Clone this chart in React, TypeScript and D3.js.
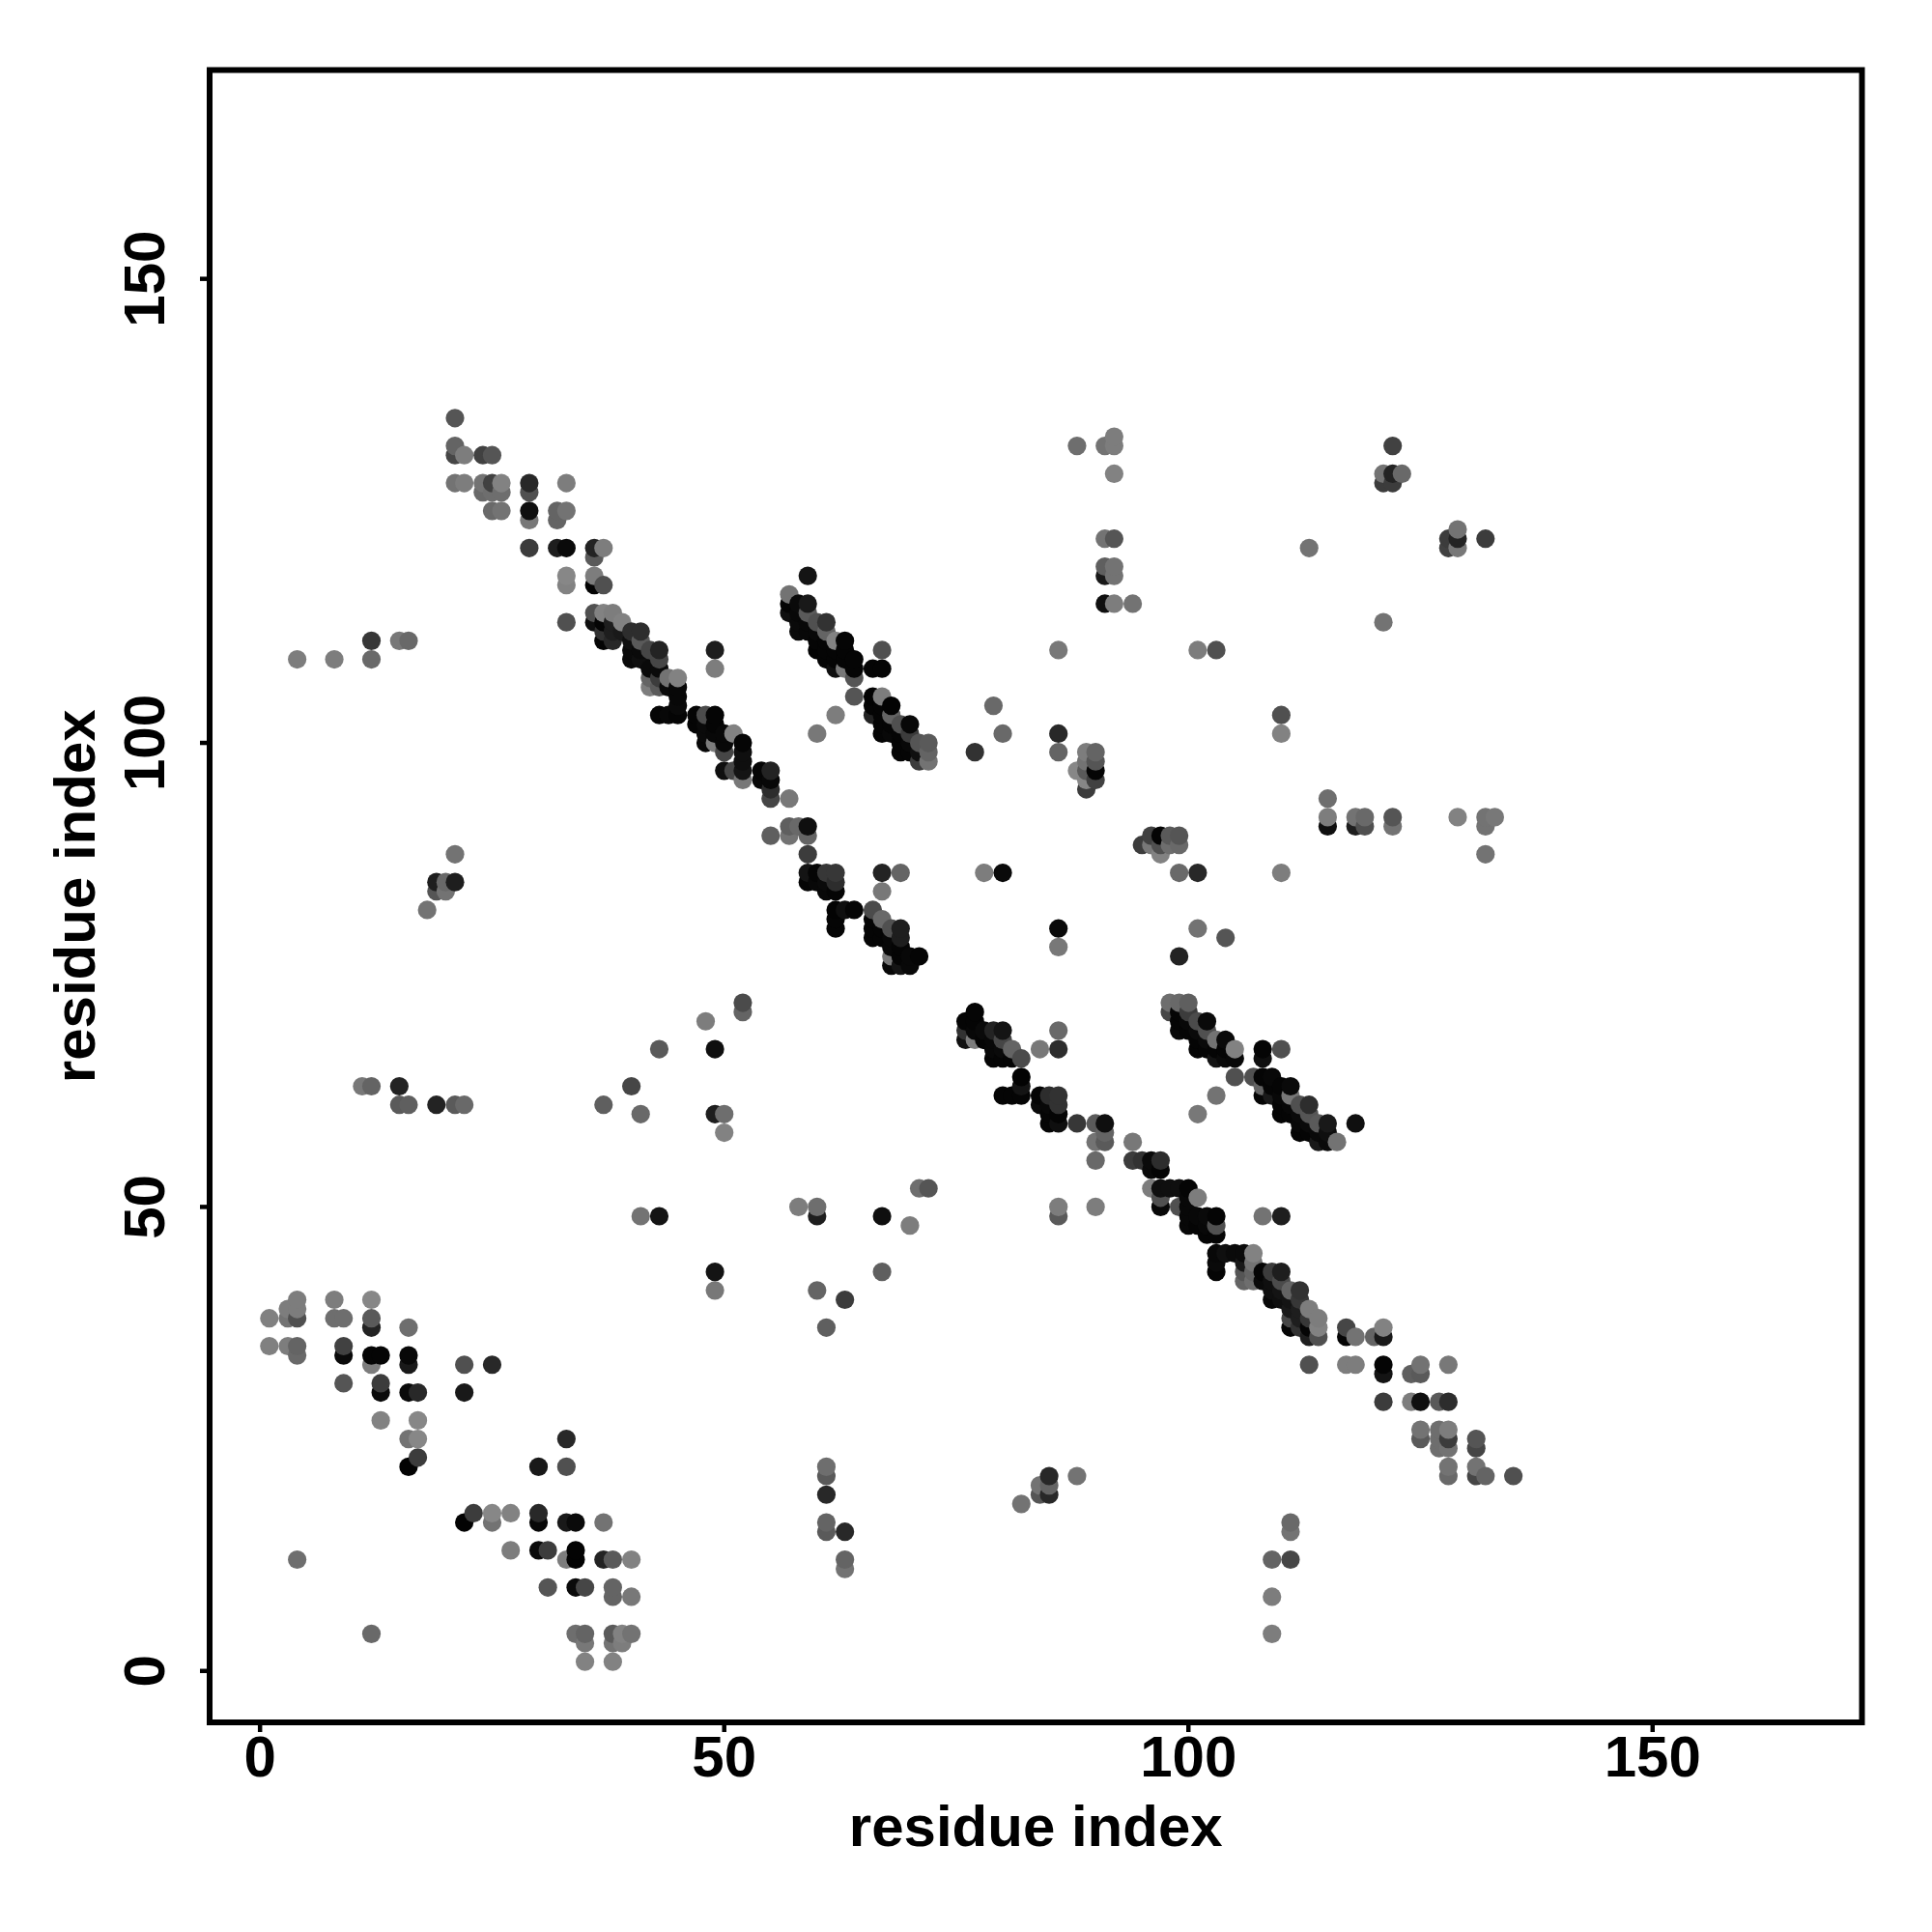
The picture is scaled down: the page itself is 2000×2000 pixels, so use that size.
import React from "react";
import * as d3 from "d3";

type C = [number, number, number];

const xTickValues = [0, 50, 100, 150];
const yTickValues = [0, 50, 100, 150];
const xDomain = [-5.43, 172.55];
const yDomain = [-5.54, 172.5];
const axisTitle = "residue index";

// [residue i, residue j, grey level]
const lowerLeft: C[] = [
  [1,38,128],[1,35,128],[3,39,125],[3,38,115],[3,35,125],[4,40,125],[4,39,125],[4,38,80],[4,35,100],[4,34,105],
  [8,40,125],[8,38,110],[9,38,110],[12,40,135],[12,38,90],[12,37,35],[16,37,110],[9,35,65],[9,34,10],[9,31,85],
  [12,34,5],[13,34,5],[12,33,125],[13,31,60],[13,30,10],[13,27,130],[16,34,8],[16,33,25],[16,30,10],[17,30,40],
  [17,27,135],[16,25,115],[17,25,135],[17,23,60],[16,22,3],[22,33,80],[25,33,40],[22,30,25],
  [33,25,40],[30,22,25],[33,22,80],[22,16,3],[23,17,60],[25,17,135],[25,16,115],[27,17,130],[30,17,40],[30,16,8],
  [33,16,25],[34,16,10],[37,16,115],[27,13,125],[30,13,10],[31,13,60],[33,12,125],[34,13,3],[34,12,3],[37,12,35],
  [38,12,90],[40,12,130],[31,9,85],[34,9,10],[35,9,70],[38,9,100],[38,8,100],[40,8,120],[34,4,110],[35,4,100],
  [35,3,120],[35,1,130],[38,4,90],[38,3,115],[39,4,130],[39,3,125],[40,4,115],[38,1,130],[4,12,110],[12,4,105],
];

const upperLeftDiagonal: C[] = [
  [21,135,85],[21,132,100],[21,131,70],[22,131,125],[24,131,65],[25,131,85],[21,128,115],[22,128,125],[24,128,115],
  [24,127,105],[25,128,65],[26,128,130],[26,127,110],[25,127,110],[25,125,105],[26,125,115],[29,128,40],[29,127,80],
  [29,125,15],[29,124,120],[29,121,60],[33,128,125],[32,125,100],[32,124,100],[33,125,115],[32,121,30],[33,121,10],
  [33,118,135],[33,117,130],[33,113,80],[36,121,35],[37,121,125],[36,120,90],[36,118,125],[36,117,3],[37,117,80],
  [36,114,80],[36,113,15],[37,114,130],[38,114,125],[39,113,130],[37,113,5],[37,112,50],[37,111,5],[38,113,30],
  [38,112,30],[38,111,40],[39,112,25],[40,112,45],[41,112,45],[40,111,15],[40,110,10],[40,109,10],[41,111,90],
  [41,110,10],[41,109,15],[42,110,70],[43,110,35],[43,109,70],[42,108,10],[43,108,10],[42,107,100],[42,106,125],
  [43,106,90],[43,107,60],[44,107,115],[45,107,130],[44,106,10],[45,106,8],[45,105,8],[45,104,10],[45,103,5],[43,103,5],
  [44,103,8],[49,110,30],[49,108,125],[47,103,5],[48,103,75],[49,103,5],[47,102,5],[48,102,10],[49,102,5],[48,100,8],
  [48,101,10],[49,101,8],[49,100,125],[50,101,8],[50,100,8],[50,99,70],[51,101,130],[52,100,5],[52,99,15],[52,98,15],
  [52,97,20],[50,97,15],[51,97,70],[52,96,120],[54,97,5],[55,97,35],[54,96,8],[55,96,8],[55,95,45],[55,94,70],[57,94,120],
];

const helixBand: C[] = [
  [59,118,20],[57,116,115],[57,115,5],[57,114,15],[58,115,10],[58,114,8],[58,113,10],[58,112,10],[59,115,25],[59,114,90],
  [59,113,8],[59,112,8],[60,113,80],[60,112,8],[60,111,5],[60,110,3],[61,113,50],[61,112,100],[61,111,5],[61,110,5],[61,109,5],
  [62,111,130],[62,110,5],[62,109,5],[62,108,15],[63,111,5],[63,110,5],[63,109,5],[63,108,120],[64,109,5],[64,108,5],[64,107,85],
  [64,105,85],[62,103,125],[60,101,120],[66,108,5],[67,108,5],[67,110,80],[66,105,3],[66,104,5],[66,103,35],[67,105,125],[67,104,5],
  [67,103,5],[67,102,5],[67,101,5],[68,104,3],[68,103,100],[68,102,5],[68,101,8],[69,102,80],[69,101,5],[69,100,5],[69,99,5],
  [70,102,8],[70,101,60],[70,100,8],[70,99,5],[71,100,85],[71,99,15],[71,98,60],[72,100,90],[72,99,100],[72,98,115],
];

const centreDiagonal: C[] = [
  [55,90,95],[57,91,95],[57,90,115],[58,91,105],[59,91,15],[59,90,100],[59,88,60],[59,86,20],[60,86,5],[61,86,55],[62,86,55],
  [59,85,5],[60,85,8],[61,85,10],[62,85,45],[61,84,8],[62,84,5],[67,86,35],[69,86,100],[67,84,120],[62,82,3],[63,82,15],[64,82,5],
  [62,81,5],[62,80,5],[66,82,75],[67,81,105],[66,81,5],[66,80,5],[67,80,5],[68,80,80],[69,80,30],[66,79,5],[67,79,5],[68,79,8],[69,79,30],
  [68,78,8],[69,78,5],[68,77,120],[69,77,5],[70,77,8],[71,77,5],[68,76,8],[69,76,20],[70,76,8],
  [77,71,5],[76,70,5],[77,70,5],[76,69,50],[77,69,8],[76,68,15],[77,68,125],[78,69,10],[79,69,35],[80,69,20],[78,68,5],[79,68,8],[80,68,70],
  [79,67,8],[80,67,10],[81,67,100],[79,66,5],[80,66,5],[81,66,5],[82,66,75],[84,67,120],[86,69,105],[86,67,45],[82,64,3],[82,63,20],[82,62,5],
  [80,62,5],[81,62,5],[84,62,5],[84,61,10],[85,62,45],[86,62,50],[85,61,8],[86,61,50],[85,60,5],[86,60,5],[85,59,5],[86,59,15],[88,59,55],
  [90,59,90],[91,59,15],[90,57,115],[91,58,100],[91,57,90],[94,57,120],[90,55,105],[94,55,60],[95,55,50],[96,55,10],[97,55,45],[96,54,10],[97,54,5],
  [96,52,125],[97,52,15],[98,52,15],[99,52,15],[100,52,5],[97,51,80],[97,50,8],[99,50,80],[101,51,125],[100,51,8],[100,50,8],[100,49,8],[100,48,8],
  [101,49,8],[102,49,10],[103,49,5],[101,48,5],[102,48,8],[103,48,80],[102,47,5],[103,47,5],[86,50,125],[86,49,90],[90,50,125],
];

const lowerRightDiagonal: C[] = [
  [103,45,8],[104,45,15],[105,45,10],[106,45,10],[107,45,130],[103,44,10],[103,43,5],[106,44,25],[107,44,115],[106,43,85],[107,43,100],
  [106,42,100],[107,42,110],[108,43,5],[109,43,60],[110,43,30],[108,42,10],[109,42,15],[110,42,75],[109,41,15],[109,40,8],[110,41,20],[110,40,15],
  [111,41,100],[112,41,50],[111,40,20],[112,40,55],[111,39,25],[111,38,70],[111,37,5],[112,39,30],[112,38,30],[112,37,50],[113,39,125],[113,38,55],
  [113,37,5],[113,36,30],[114,38,125],[114,37,130],[114,36,80],[117,37,70],[117,36,5],[118,36,115],[120,36,100],[121,37,130],[121,36,25],
  [113,33,80],[117,33,125],[118,33,125],[121,33,5],[121,32,20],[124,32,95],[125,33,115],[125,32,90],[128,33,120],[121,29,60],[124,29,125],[125,29,15],
  [127,29,90],[128,29,45],[125,26,115],[125,25,90],[127,26,110],[127,25,110],[127,24,110],[128,26,125],[128,25,60],[128,24,115],[131,25,85],[131,24,70],
  [128,22,115],[128,21,105],[131,22,115],[131,21,70],[132,21,100],[135,21,80],
];

const secondBand: C[] = [
  [98,72,110],[99,72,105],[100,72,95],[98,71,70],[99,71,5],[100,71,60],[99,70,5],[99,69,8],[100,70,8],[100,69,5],[101,70,75],[102,70,10],[101,69,10],
  [101,68,5],[101,67,5],[102,69,80],[102,68,10],[102,67,5],[103,68,115],[104,68,10],[103,67,5],[103,66,20],[104,67,5],[104,66,10],[105,67,130],[105,66,8],
  [105,64,80],[103,62,115],[101,60,120],[107,64,80],[108,67,5],[108,66,15],[110,67,80],[108,64,5],[108,63,100],[108,62,5],[109,64,8],[109,63,5],[109,62,25],
  [110,63,5],[110,62,8],[110,61,5],[110,60,5],[111,63,10],[111,62,120],[111,61,8],[111,60,5],[112,61,80],[112,60,10],[112,59,8],[112,58,5],[113,61,45],
  [113,60,85],[113,59,10],[113,58,5],[114,59,90],[114,58,10],[114,57,25],[115,59,25],[115,58,15],[115,57,10],[116,57,115],[118,59,15],
];

const upperRight: C[] = [
  [88,132,110],[91,132,115],[92,132,125],[92,133,125],[92,129,130],[91,122,115],[92,122,85],[91,119,95],[91,118,25],[92,119,115],[92,118,115],
  [91,115,15],[92,115,125],[94,115,115],[86,110,120],[101,110,125],[103,110,80],[113,121,115],[122,132,65],[121,129,115],[122,129,35],[123,129,105],
  [121,128,60],[122,128,60],[121,113,115],[128,122,60],[128,121,65],[129,123,115],[129,122,35],[129,121,120],[132,122,60],[110,103,80],[110,101,130],
  [79,104,105],[80,101,105],[77,99,50],[86,101,40],[86,99,100],[89,99,125],[90,99,100],[89,98,115],[90,98,85],[90,97,5],[88,97,135],[89,97,90],[89,96,135],
  [90,96,65],[89,95,60],[115,94,110],[115,92,125],[115,91,15],[118,92,115],[118,91,30],[119,92,105],[119,91,80],[122,92,85],[122,91,115],[129,92,130],
  [132,92,115],[132,91,115],[133,92,120],[132,88,115],[95,89,60],[96,90,65],[96,89,120],[97,90,5],[97,89,80],[97,88,130],[98,90,90],[98,89,110],[99,90,85],
  [99,89,105],[99,86,105],[101,86,40],[110,86,125],[78,86,125],[80,86,10],[86,80,10],[86,78,120],[99,77,35],[101,80,115],[104,79,85],
];

const scattered: C[] = [
  [12,111,55],[15,111,120],[16,111,105],[4,109,125],[8,109,125],[12,109,105],[21,88,115],[19,85,30],[20,85,105],[21,85,30],[19,84,85],[20,84,115],[18,82,115],
  [11,63,120],[12,63,100],[15,63,35],[15,61,90],[16,61,95],[19,61,35],[21,61,90],[22,61,105],
  [52,72,75],[52,71,100],[48,70,125],[49,67,15],[43,67,90],[40,63,70],[37,61,95],[41,60,105],[49,60,30],[50,60,110],[50,58,130],
  [58,50,125],[60,50,110],[60,49,30],[67,49,15],[70,48,125],[71,52,110],[72,52,85],[49,43,20],[49,41,120],[67,43,95],[60,41,100],[63,40,60],[61,37,95],
  [61,22,110],[61,21,90],[61,19,40],[61,16,100],[61,15,90],[63,15,40],[63,12,100],[63,11,115],[82,18,115],[84,20,115],[84,19,85],[85,21,40],[85,20,100],[85,19,40],
  [88,21,115],[109,12,100],[111,12,70],[111,16,105],[111,15,115],[109,8,125],[109,4,125],[108,49,115],[110,49,30],[41,49,115],[43,49,20],
];

const contacts: C[] = [
  ...lowerLeft, ...upperLeftDiagonal, ...helixBand, ...centreDiagonal,
  ...lowerRightDiagonal, ...secondBand, ...upperRight, ...scattered,
].sort((a, b) => d3.ascending(a[0], b[0]) || d3.ascending(a[1], b[1]));

const FONT = "'Liberation Sans', Arial, Helvetica, sans-serif";

export default function App() {
  const frame = { left: 217, right: 1927.5, top: 72.5, bottom: 1783 };
  const x = d3.scaleLinear().domain(xDomain).range([frame.left, frame.right]);
  const y = d3.scaleLinear().domain(yDomain).range([frame.bottom, frame.top]);
  const midX = (frame.left + frame.right) / 2;
  const midY = (frame.top + frame.bottom) / 2;
  return (
    <svg width={2000} height={2000} style={{ position: "absolute", left: 0, top: 0, background: "#fff" }}>
      <g>
        {contacts.map((c, i) => (
          <circle key={i} cx={x(c[0])} cy={y(c[1])} r={9.6} fill={d3.rgb(c[2], c[2], c[2]).formatHex()} />
        ))}
      </g>
      <rect x={frame.left} y={frame.top} width={frame.right - frame.left} height={frame.bottom - frame.top}
        fill="none" stroke="#000" strokeWidth={6} />
      {xTickValues.map((t) => (
        <g key={t}>
          <line x1={x(t)} x2={x(t)} y1={frame.bottom} y2={frame.bottom + 10} stroke="#000" strokeWidth={4.5} />
          <text x={x(t)} y={1839} textAnchor="middle" fontFamily={FONT} fontWeight="bold" fontSize={60}>{t}</text>
        </g>
      ))}
      {yTickValues.map((t) => (
        <g key={t}>
          <line x1={frame.left - 10} x2={frame.left} y1={y(t)} y2={y(t)} stroke="#000" strokeWidth={4.5} />
          <text transform={`translate(170,${y(t)}) rotate(-90)`} textAnchor="middle" fontFamily={FONT} fontWeight="bold" fontSize={60}>{t}</text>
        </g>
      ))}
      <text x={midX} y={1911} textAnchor="middle" fontFamily={FONT} fontWeight="bold" fontSize={60}>{axisTitle}</text>
      <text transform={`translate(98,${midY}) rotate(-90)`} textAnchor="middle" fontFamily={FONT} fontWeight="bold" fontSize={60}>{axisTitle}</text>
    </svg>
  );
}
